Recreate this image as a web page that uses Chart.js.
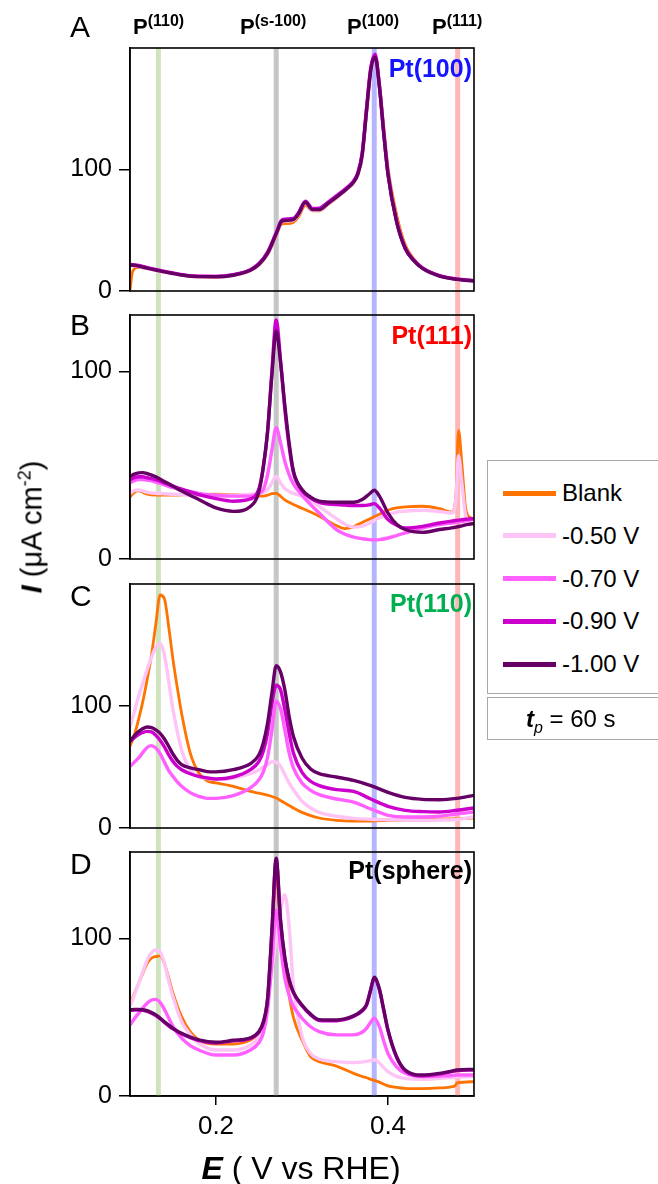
<!DOCTYPE html>
<html><head><meta charset="utf-8">
<script src="https://cdn.jsdelivr.net/npm/chart.js@4.4.1/dist/chart.umd.min.js"></script>
<style>
html,body{margin:0;padding:0;background:#fff;}
body{width:658px;height:1184px;position:relative;overflow:hidden;font-family:"Liberation Sans",Arial,sans-serif;color:#000;}
canvas{position:absolute;left:0;}
.t{position:absolute;white-space:nowrap;line-height:1;}
.pl{font-weight:bold;font-size:22px;}
.pl span{font-size:16px;position:relative;top:-8px;}
.let{font-size:30px;left:70px;}
.tag{font-weight:bold;font-size:25px;right:186px;}
</style></head><body>
<canvas id="cA" width="658" height="303" style="top:0px"></canvas>
<canvas id="cB" width="658" height="268" style="top:303px"></canvas>
<canvas id="cC" width="658" height="269" style="top:571px"></canvas>
<canvas id="cD" width="658" height="344" style="top:840px"></canvas>

<div class="t pl" style="left:133px;top:16px">P<span>(110)</span></div>
<div class="t pl" style="left:240px;top:16px">P<span>(s-100)</span></div>
<div class="t pl" style="left:347px;top:16px">P<span>(100)</span></div>
<div class="t pl" style="left:432px;top:16px">P<span>(111)</span></div>

<div class="t let" style="top:12px">A</div>
<div class="t let" style="top:310px">B</div>
<div class="t let" style="top:581px">C</div>
<div class="t let" style="top:849px">D</div>

<div class="t tag" style="top:56px;color:#1414ff">Pt(100)</div>
<div class="t tag" style="top:323px;color:#ff0000">Pt(111)</div>
<div class="t tag" style="top:591px;color:#00b050">Pt(110)</div>
<div class="t tag" style="top:858px;color:#000">Pt(sphere)</div>

<div class="t" style="left:32px;top:527px;font-size:29px;transform:translate(-50%,-50%) rotate(-90deg);"><b><i>I</i></b> (μA cm<span style="font-size:18px;position:relative;top:-11px">-2</span>)</div>
<div class="t" style="left:301px;top:1168px;font-size:32px;transform:translate(-50%,-50%);"><b><i>E</i></b> ( V vs RHE)</div>

<div id="leg" style="position:absolute;left:487px;top:460px;width:200px;height:232px;border:1px solid #a8a8a8;background:#fff;"></div>
<div style="position:absolute;left:487px;top:697px;width:200px;height:41px;border:1px solid #a8a8a8;background:#fff;">
  <div class="t" style="left:38px;top:9px;font-size:24px;"><b><i>t</i></b><i style="font-size:16px;position:relative;top:6px">p</i> = 60 s</div>
</div>

<script>
// ---------- series / legend ----------
const SERIES = ['Blank', '-0.50 V', '-0.70 V', '-0.90 V', '-1.00 V'];
const COLORS = ['#ff7300', '#ffc4f6', '#ff60ff', '#cc00cc', '#660066'];
const XTICKS = [0.2, 0.4];
const YTICKS = [0, 100];
const BANDS = [0.133, 0.27, 0.384, 0.481];
const BAND_COLORS = ['#cfe3bf', '#c6c6c6', '#b6b6ff', '#ffb6b6'];

// ---------- Panel A : Pt(100) ----------
const EA = [0.100,0.103,0.11,0.12,0.14,0.16,0.18,0.20,0.22,0.24,0.25,0.26,0.27,0.276,0.28,0.29,0.296,0.304,0.312,0.32,0.33,0.34,0.352,0.36,0.365,0.37,0.375,0.38,0.385,0.39,0.395,0.40,0.41,0.42,0.43,0.44,0.46,0.48,0.50];
const A_blank = [1,16,19.5,18.4,15.5,13,11.6,11.5,12.8,16.6,21.5,30,45,55,55.5,56.5,61,70.5,66,66,71,76.5,83.5,89,95.5,110,145,180,192,172,136,102,63,38,26.5,19.2,12.5,9.8,8.5];
const A_m050 = [20.8,20.7,20.2,18.6,15.6,13.1,11.7,11.6,12.9,16.8,21.8,30.5,46,56.5,57.5,58.2,63,72.5,66.5,66.6,71.5,77,83.8,89.3,96,111,147,181,192.5,169,131,97,58,35.5,25.3,18.8,12.4,9.7,8.3];
const A_m070 = [21.5,21.4,20.8,19,16,13.4,12,11.9,13.2,17.2,22.3,31.5,47.5,57.5,58.6,59.3,64,73.6,67.6,67.6,72.6,77.9,84.6,90.2,97,113,149,183,193.5,168.5,130.5,96.5,57.5,35.3,25.2,18.8,12.5,9.8,8.4];
const A_m090 = [21.8,21.7,21,19.2,16.2,13.5,12.1,12,13.4,17.5,22.6,32,48,58,59.2,59.8,64.5,74,68,68.2,73,78.3,85,90.6,97.6,113.5,150,184,195,169,131,96.5,57.5,35.5,25.4,19,12.6,9.9,8.5];
const A_m100 = [21.3,21.2,20.5,18.8,15.8,13.2,11.8,11.7,13.0,17.0,22.0,31,47,57,58,58.7,63.5,73,67,67,72,77.3,84,89.6,96.4,112,148,182,192.6,168,130,96,57,35,25,18.6,12.3,9.6,8.2];

// ---------- Panel B : Pt(111) ----------
const EB = [0.100,0.105,0.11,0.115,0.12,0.13,0.14,0.15,0.16,0.18,0.20,0.22,0.24,0.25,0.255,0.26,0.265,0.27,0.275,0.28,0.285,0.29,0.30,0.31,0.32,0.34,0.35,0.36,0.37,0.378,0.384,0.39,0.40,0.41,0.42,0.44,0.46,0.474,0.479,0.482,0.486,0.49,0.494,0.50];
const B_blank = [33,35.5,36.3,35.5,34.5,34,34,34,34.2,34.3,34.5,34.3,33.8,33.5,33.5,34,34.8,35,33.5,31.5,30.2,29,27,25,22.8,17.8,16.2,17.2,19.5,21.2,22.5,23.8,26,27.2,27.8,28.1,26.8,25,34,68.5,50,28,22.5,21.4];
const B_m050 = [35,36.5,36.8,36.3,35.5,35,34.8,34.5,34.3,34,34,34,34.5,35,35.5,37,40.5,44,40.5,37.5,36,35,33.5,31,28,21.5,18.5,17,17.5,19,20.5,22,23.7,25,25.5,26,25.3,24.5,32,55,40,24,21,21];
const B_m070 = [40.6,41.8,42.3,42.3,42,41,39.5,38,37,35,34,33.5,33.5,35,37,45,58,70,62,52,45,40,34,29,24.5,15.7,13.2,11.7,10.8,10.3,10.2,10.3,11.2,12.5,13.9,16.5,18.3,19.2,19.5,19.7,20,20.3,20.7,21.4];
const B_m090 = [42.3,43.3,43.8,43.8,43.3,42.3,40.5,38.8,37.2,34.3,32.2,30.8,32,37.5,49,68,100,127.4,106,80,60,46,36.5,32.5,30.2,29,28.7,28.5,28.5,28.8,29.5,27.2,21,18,16.5,17.4,19.2,20.2,20.5,20.7,21,21.2,21.3,21.5];
const B_m100 = [44,45.2,45.9,46,45.5,43.8,41.3,38.8,36.2,31.7,27.2,25.4,28,36,49,68,98,121.5,105,82,62,47,37,33,30.8,30.2,30.2,30.2,31.7,34.5,36.6,33.5,24.5,18.5,15.7,14.2,15.7,16.6,17,17.3,17.7,18.2,18.5,18.9];

// ---------- Panel C : Pt(110) ----------
const EC = [0.100,0.105,0.11,0.115,0.12,0.125,0.13,0.135,0.14,0.145,0.15,0.155,0.16,0.17,0.18,0.19,0.20,0.22,0.24,0.25,0.255,0.26,0.265,0.27,0.275,0.28,0.285,0.29,0.30,0.31,0.32,0.34,0.36,0.38,0.40,0.42,0.44,0.46,0.48,0.50];
const C_blank = [67,76,89,104,122,142,167,191,188,165,138,115,94,61.5,45,38.5,37,34.2,30,28.5,27.8,27,25.8,24.6,22.6,20.5,18.5,16.4,12.8,10.2,8.2,6.3,5.7,5.7,6.3,6.6,6.8,7.2,7.7,8.2];
const C_m050 = [83,95,108,119,130,140,148,151,142,120,97,79,64,47.8,41.8,40.5,40,41,44.5,47.8,50,52,54.3,54,50.5,43.7,37,31.4,21.9,16.4,12.8,9.6,7.9,7.2,6.8,6.5,6.3,6.5,7,9];
const C_m070 = [50.5,54,57.4,62,66,67.5,65.5,61,54,47,42.3,37.8,34.2,29,26,24.3,24.3,26.5,32.8,39.6,46,58,80,104,98,80.6,61.5,49.2,36.9,30.9,27.3,23.8,21.3,15.6,10.4,9,9,9.6,11.5,13.1];
const C_m090 = [71,74,76.5,78.3,79.2,78.8,76,72,66.5,60,54.6,50.5,47.8,44.5,42.3,41,40.2,41.8,47.8,54.6,62.8,78,102,117,113.4,97,78,61.5,45.6,38.3,34.7,31.4,30,23.8,17.8,14.5,13.4,13.1,14.5,16.4];
const C_m100 = [71,75.5,79,81.5,82.8,82.3,80.5,77.5,73,67,60.5,55.5,52,49.3,47.8,46.2,46,47.8,52.7,60,69.7,86,110.7,133,128,113.4,91.5,75,57.4,48.4,44.5,41.8,39,34.7,29.2,25.1,23.5,23.2,24.3,26.8];

// ---------- Panel D : Pt(sphere) ----------
const ED = [0.100,0.105,0.11,0.115,0.12,0.125,0.13,0.135,0.14,0.145,0.15,0.16,0.17,0.18,0.20,0.22,0.24,0.25,0.255,0.26,0.265,0.27,0.275,0.28,0.285,0.29,0.30,0.31,0.32,0.34,0.36,0.37,0.375,0.38,0.384,0.39,0.395,0.40,0.41,0.42,0.44,0.46,0.475,0.478,0.48,0.50];
const D_blank = [57.8,65,71.6,78,84.3,87.5,88.6,89,84,75,65.3,50.4,40.9,35.6,33,33,35.5,40,45.5,60,100,140,108,84,64,50,35.6,25,21.8,19,14.4,12.4,11.6,10.6,9.9,8.8,7.5,6.4,5.5,4.9,4.7,5.1,5.9,6.5,8.2,9.1];
const D_m050 = [56.8,64,71.6,79,86.4,91,92.8,91.5,84.3,73,63,47.2,39,33.5,29.2,29.2,32.4,37.7,45,61,80,100,118,127.8,108,70,38,27,23.5,21.8,21.2,21.5,22,22.5,23,21,18,15.5,12.5,11.2,10.6,11.2,11.7,11.8,12,12.3];
const D_m070 = [45,49,52.5,56,59,61,61.4,59.5,55,49.5,44,36.7,32,29.2,26,26,29.2,34,40,55,85,118,95,75,64,57,49.4,44,40.9,38.8,38.8,40.5,43,47,49.4,44,35,27,18.5,14.4,12.3,12.7,13,13.2,13.3,13.3];
const D_m090 = [54.3,54.6,54.6,54.4,53.8,52.6,51.1,49.1,46.8,44.6,42.6,39.4,37.1,35.2,33.7,35.0,36.6,40.6,46.6,61.5,104,150,111,87.5,73.5,65.5,57.3,51.5,48.0,47.8,50.5,54.0,57.5,67.5,74.8,67.5,54.5,41.5,24.6,16.1,12.9,14.0,15.6,15.9,16.1,16.5];
const D_m100 = [54.7,55,55,54.8,54.2,53,51.5,49.5,47.2,45,43,39.8,37.5,35.6,34.1,35.4,37,41,47,62,105,151,112,88,74,66,57.8,52,48.5,48.3,51,54.5,58,68,75.4,68,55,42,25,16.5,13.3,14.4,16,16.3,16.5,16.9];

const FONT = '"Liberation Sans", Arial, sans-serif';

// legend (HTML)
const leg = document.getElementById('leg');
SERIES.forEach((name, i) => {
  const cy = 32 + i * 42.8;
  const ln = document.createElement('div');
  ln.style.cssText = `position:absolute;left:15px;top:${cy - 2.5}px;width:53px;height:5px;background:${COLORS[i]};`;
  leg.appendChild(ln);
  const tx = document.createElement('div');
  tx.className = 't';
  tx.style.cssText = `left:74px;top:${cy - 12}px;font-size:24px;`;
  tx.textContent = name;
  leg.appendChild(tx);
});

function bandPlugin(isA, isD) {
  return {
    id: 'bands',
    beforeDatasetsDraw(chart) {
      const ctx = chart.ctx, xs = chart.scales.x, a = chart.chartArea;
      const top = isA ? a.top : 0;
      const bot = isD ? a.bottom : chart.height;
      ctx.save();
      BANDS.forEach((v, i) => {
        const p = xs.getPixelForValue(v);
        ctx.fillStyle = BAND_COLORS[i];
        ctx.fillRect(p - 2.5, top, 5, bot - top);
      });
      ctx.restore();
    }
  };
}
const framePlugin = {
  id: 'frame',
  afterDatasetsDraw(chart) {
    const ctx = chart.ctx, a = chart.chartArea;
    ctx.save();
    ctx.strokeStyle = '#000';
    ctx.lineWidth = 1.6;
    ctx.strokeRect(a.left, a.top, a.right - a.left, a.bottom - a.top);
    ctx.restore();
  }
};

function panel(id, E, ys, ymax, padTop, padBot, isA, isD) {
  const datasets = SERIES.map((name, i) => ({
    label: name,
    data: E.map((x, k) => ({ x: x, y: ys[i][k] })),
    borderColor: COLORS[i],
    borderWidth: i === 0 ? 2.8 : 3.4,
    pointRadius: 0,
    fill: false,
    cubicInterpolationMode: 'monotone',
    order: SERIES.length - 1 - i
  }));
  new Chart(document.getElementById(id), {
    type: 'line',
    data: { datasets },
    options: {
      responsive: false,
      animation: false,
      events: [],
      layout: { padding: { left: 0, right: 184, top: padTop, bottom: padBot } },
      plugins: { legend: { display: false }, tooltip: { enabled: false } },
      scales: {
        x: {
          type: 'linear', min: 0.1, max: 0.5, display: isD,
          afterBuildTicks: s => { s.ticks = XTICKS.map(v => ({ value: v })); },
          afterFit: s => { s.height = isD ? 88 : 0; s.paddingLeft = 0; s.paddingRight = 0; s.paddingTop = 0; s.paddingBottom = 0; },
          grid: { drawOnChartArea: false, drawTicks: true, tickLength: 9, color: '#000', lineWidth: 1.5 },
          border: { display: true, color: '#000', width: 1.5 },
          ticks: { font: { size: 26, family: FONT }, color: '#000', padding: 6, maxRotation: 0, autoSkip: false,
                   callback: v => v.toFixed(1) }
        },
        y: {
          type: 'linear', min: 0, max: ymax,
          afterBuildTicks: s => { s.ticks = YTICKS.map(v => ({ value: v })); },
          afterFit: s => { s.width = 130; s.paddingTop = 0; s.paddingBottom = 0; s.paddingLeft = 0; s.paddingRight = 0; },
          grid: { drawOnChartArea: false, drawTicks: true, tickLength: 11, color: '#000', lineWidth: 1.5 },
          border: { display: true, color: '#000', width: 1.5 },
          ticks: { font: { size: 25, family: FONT }, color: '#000', padding: 7, autoSkip: false }
        }
      }
    },
    plugins: [bandPlugin(isA, isD), framePlugin]
  });
}

panel('cA', EA, [A_blank, A_m050, A_m070, A_m090, A_m100], 200, 48, 12, true, false);
panel('cB', EB, [B_blank, B_m050, B_m070, B_m090, B_m100], 130, 12, 12, false, false);
panel('cC', EC, [C_blank, C_m050, C_m070, C_m090, C_m100], 200, 13, 12, false, false);
panel('cD', ED, [D_blank, D_m050, D_m070, D_m090, D_m100], 155, 12, 0, false, true);
</script>
</body></html>
